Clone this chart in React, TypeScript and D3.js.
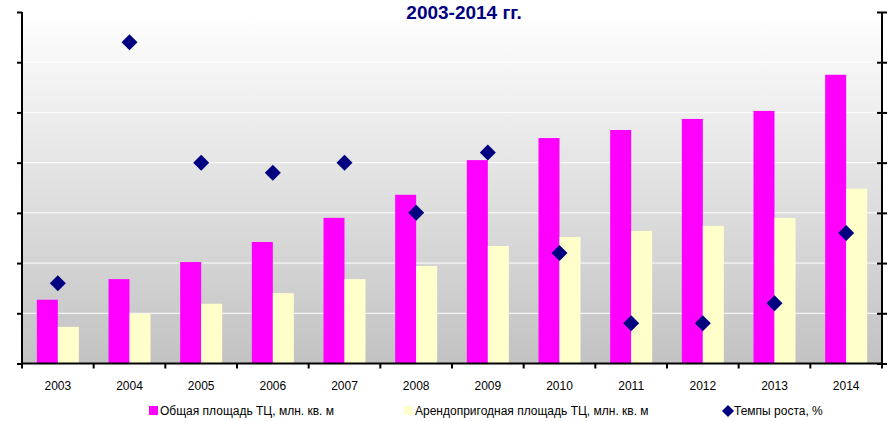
import { useEffect, useRef } from 'react';
import * as d3 from 'd3';

const years = ['2003', '2004', '2005', '2006', '2007', '2008', '2009', '2010', '2011', '2012', '2013', '2014'];
const totalArea = [1.27, 1.68, 2.02, 2.42, 2.9, 3.36, 4.05, 4.49, 4.65, 4.87, 5.03, 5.75];
const rentArea = [0.73, 0.99, 1.19, 1.4, 1.68, 1.94, 2.34, 2.52, 2.64, 2.74, 2.9, 3.48];
const growthRate = [16, 64, 40, 38, 40, 30, 42, 22, 8, 8, 12, 26];
const leftTicks = [0, 1, 2, 3, 4, 5, 6, 7];
const rightTicks = [0, 10, 20, 30, 40, 50, 60, 70];

const seriesNames = [
  'Общая площадь ТЦ, млн. кв. м',
  'Арендопригодная площадь ТЦ, млн. кв. м',
  'Темпы роста, %',
];
const title = '2003-2014 гг.';

export default function App() {
  const svgRef = useRef<SVGSVGElement>(null);

  useEffect(() => {
    if (!svgRef.current) return;
    document.body.style.margin = '0';

    const W = 896;
    const H = 421;
    const margin = { top: 12, right: 14, bottom: 57.5, left: 22 };
    const innerW = W - margin.left - margin.right;
    const innerH = H - margin.top - margin.bottom;
    const font = '"Liberation Sans", Arial, sans-serif';

    const root = d3.select(svgRef.current);
    root.selectAll('*').remove();
    root.attr('width', W).attr('height', H);

    // background gradient
    const defs = root.append('defs');
    const grad = defs.append('linearGradient')
      .attr('id', 'bg')
      .attr('x1', 0).attr('y1', 0).attr('x2', 0).attr('y2', 1);
    grad.append('stop').attr('offset', '0%').attr('stop-color', '#ffffff');
    grad.append('stop').attr('offset', '100%').attr('stop-color', '#c2c2c2');

    const svg = root.append('g')
      .attr('transform', `translate(${margin.left},${margin.top})`);

    svg.append('rect')
      .attr('width', innerW)
      .attr('height', innerH)
      .attr('fill', 'url(#bg)');

    // Scales
    const x = d3.scaleBand()
      .domain(years)
      .range([0, innerW])
      .paddingInner(0.414)
      .paddingOuter(0.207);

    const xSub = d3.scaleBand()
      .domain(['total', 'rent'])
      .range([0, x.bandwidth()]);

    const yLeft = d3.scaleLinear().domain([0, 7]).range([innerH, 0]);
    const yRight = d3.scaleLinear().domain([0, 70]).range([innerH, 0]);

    // gridlines
    svg.append('g')
      .selectAll('line')
      .data(leftTicks.slice(1))
      .join('line')
      .attr('x1', 0)
      .attr('x2', innerW)
      .attr('y1', d => yLeft(d))
      .attr('y2', d => yLeft(d))
      .attr('stroke', '#ffffff')
      .attr('stroke-width', 1);

    // bars
    svg.append('g')
      .selectAll('rect')
      .data(years)
      .join('rect')
      .attr('x', d => (x(d) || 0) + (xSub('total') || 0))
      .attr('width', xSub.bandwidth())
      .attr('y', (_, i) => yLeft(totalArea[i]))
      .attr('height', (_, i) => innerH - yLeft(totalArea[i]))
      .attr('fill', '#ff00ff');

    svg.append('g')
      .selectAll('rect')
      .data(years)
      .join('rect')
      .attr('x', d => (x(d) || 0) + (xSub('rent') || 0))
      .attr('width', xSub.bandwidth())
      .attr('y', (_, i) => yLeft(rentArea[i]))
      .attr('height', (_, i) => innerH - yLeft(rentArea[i]))
      .attr('fill', '#ffffcc');

    // diamonds
    const diamond = 'M0,-8L8,0L0,8L-8,0Z';
    svg.append('g')
      .selectAll('path')
      .data(years)
      .join('path')
      .attr('d', diamond)
      .attr('transform', (d, i) =>
        `translate(${(x(d) || 0) + x.bandwidth() / 2},${yRight(growthRate[i])})`)
      .attr('fill', '#000080');

    // Axes
    const axisLeft = svg.append('g')
      .call(d3.axisLeft(yLeft).tickValues(leftTicks).tickSize(5).tickFormat(() => ''));
    axisLeft.select('.domain').attr('stroke-width', 2).attr('d', `M0,${innerH}V0`);
    axisLeft.selectAll('.tick line').attr('stroke-width', 2);

    const axisRight = svg.append('g')
      .attr('transform', `translate(${innerW},0)`)
      .call(d3.axisRight(yRight).tickValues(rightTicks).tickSize(5).tickFormat(() => ''));
    axisRight.select('.domain').attr('stroke-width', 2).attr('d', `M0,${innerH}V0`);
    axisRight.selectAll('.tick line').attr('stroke-width', 2).attr('x1', -5);

    // x axis: ticks at category boundaries
    const step = x.step();
    const boundaries = d3.range(years.length + 1).map(i => i * step);
    const xAxis = svg.append('g').attr('transform', `translate(0,${innerH})`);
    xAxis.append('line')
      .attr('x1', 0).attr('x2', innerW)
      .attr('stroke', '#000').attr('stroke-width', 2);
    xAxis.selectAll('line.tk')
      .data(boundaries)
      .join('line')
      .attr('class', 'tk')
      .attr('x1', d => d).attr('x2', d => d)
      .attr('y1', 0).attr('y2', 5)
      .attr('stroke', '#000').attr('stroke-width', 2);
    xAxis.selectAll('text')
      .data(years)
      .join('text')
      .attr('x', d => (x(d) || 0) + x.bandwidth() / 2)
      .attr('y', 26)
      .attr('text-anchor', 'middle')
      .attr('font-family', font)
      .attr('font-size', 12)
      .attr('fill', '#000')
      .text(d => d);

    // title
    root.append('text')
      .attr('x', 464)
      .attr('y', 19)
      .attr('text-anchor', 'middle')
      .attr('font-family', font)
      .attr('font-size', 19)
      .attr('font-weight', 'bold')
      .attr('fill', '#000080')
      .text(title);

    // legend
    const legend = root.append('g').attr('transform', 'translate(0,411)');
    const legendItems = [
      { x: 149, color: '#ff00ff', shape: 'rect' },
      { x: 404, color: '#ffffcc', shape: 'rect' },
      { x: 723, color: '#000080', shape: 'diamond' },
    ];
    legendItems.forEach((item, i) => {
      const g = legend.append('g').attr('transform', `translate(${item.x},0)`);
      if (item.shape === 'rect') {
        g.append('rect')
          .attr('x', 0).attr('y', -5)
          .attr('width', 9).attr('height', 9)
          .attr('fill', item.color);
      } else {
        g.append('path')
          .attr('d', 'M0,-6L6,0L0,6L-6,0Z')
          .attr('transform', 'translate(5,0)')
          .attr('fill', item.color);
      }
      g.append('text')
        .attr('x', 11)
        .attr('y', 4)
        .attr('font-family', font)
        .attr('font-size', 12)
        .attr('fill', '#000')
        .text(seriesNames[i]);
    });
  }, []);

  return (
    <div style={{ position: 'absolute', top: 0, left: 0 }}>
      <svg ref={svgRef} style={{ display: 'block' }}></svg>
    </div>
  );
}
